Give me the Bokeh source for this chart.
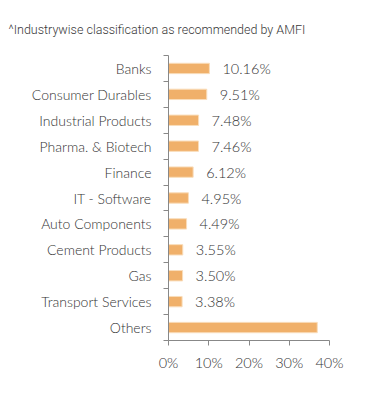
from bokeh.plotting import figure
from bokeh.models import FixedTicker, Title, ColumnDataSource, Range1d, CustomJSTickFormatter
from bokeh.core.properties import value
from bokeh.embed import file_html
from bokeh.resources import INLINE

categories = ["Banks", "Consumer Durables", "Industrial Products", "Pharma. & Biotech",
              "Finance", "IT - Software", "Auto Components", "Cement Products",
              "Gas", "Transport Services", "Others"]
weights = [10.16, 9.51, 7.48, 7.46, 6.12, 4.95, 4.49, 3.55, 3.50, 3.38, 36.96]
x_ticks = [0, 10, 20, 30, 40]
title_text = "^Industrywise classification as recommended by AMFI"

FONT = "Lato Light"

n = len(categories)
ypos = [n - i - 0.5 for i in range(n)]
labels = ["%.2f%%" % w for w in weights]
src = ColumnDataSource(dict(y=ypos, w=weights, lab=labels))

p = figure(width=385, height=410, output_backend="svg", toolbar_location=None,
           x_range=Range1d(0, 40), y_range=Range1d(0, n),
           min_border_left=168, min_border_right=56, min_border_top=55, min_border_bottom=70)
p.outline_line_color = None
p.grid.grid_line_color = None
p.background_fill_color = "white"
p.border_fill_color = "white"

p.hbar(y="y", right="w", left=0, height=0.4, source=src,
       fill_color="#F0B06A", line_color="#F9DDBB", line_width=1)
p.text(x="w", y="y", text="lab", source=src, x_offset=13,
       text_align="left", text_baseline="middle", text_font=value(FONT),
       text_font_size="14.5px", text_color="#333333")

# y axis
ya = p.yaxis[0]
ya.ticker = FixedTicker(ticks=ypos, minor_ticks=list(range(n + 1)))
ya.major_label_overrides = {y: c for y, c in zip(ypos, categories)}
ya.major_tick_out = 0
ya.major_tick_in = 0
ya.minor_tick_out = 5
ya.minor_tick_in = 0
ya.minor_tick_line_color = "#888888"
ya.axis_line_color = "#888888"
ya.major_label_standoff = 12
ya.major_label_text_font = FONT
ya.major_label_text_font_size = "14px"
ya.major_label_text_color = "#333333"

xa = p.xaxis[0]
xa.ticker = FixedTicker(ticks=x_ticks, minor_ticks=[])
xa.formatter = CustomJSTickFormatter(code="return tick + '%';")
xa.major_tick_out = 5
xa.major_tick_in = 0
xa.major_tick_line_color = "#888888"
xa.axis_line_color = "#888888"
xa.major_label_standoff = 8
xa.major_label_text_font = FONT
xa.major_label_text_font_size = "14.5px"
xa.major_label_text_color = "#333333"

t = Title(text=title_text, align="left", text_font="Roboto Light", text_font_size="12.5px",
          text_font_style="normal", text_color="#3a3a3a", offset=-160, standoff=34,
          vertical_align="top")
p.add_layout(t, "above")

open("out.html", "w").write(file_html(p, INLINE))
